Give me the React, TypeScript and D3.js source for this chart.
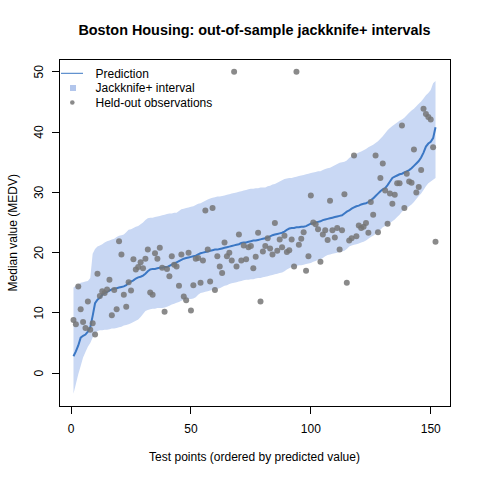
import React, { useRef, useEffect } from 'react';
import * as d3 from 'd3';

// Test points ordered by predicted value (index 1..152)
const predicted = [
  2.8, 3.6, 4.6, 5.9, 6.2, 6.4, 6.9, 7.6, 9.5, 11.6,
  12.2, 12.5, 13.0, 13.3, 13.5, 13.7, 13.9, 14.0, 14.1, 14.2,
  14.3, 14.4, 14.6, 15.0, 15.2, 15.4, 15.7, 15.9, 16.0, 16.2,
  16.5, 16.9, 17.2, 17.3, 17.3, 17.4, 17.5, 17.5, 17.6, 17.6,
  17.8, 18.0, 18.2, 18.4, 18.6, 18.8, 19.0, 19.1, 19.2, 19.3,
  19.4, 19.5, 19.7, 19.9, 20.0, 20.1, 20.2, 20.3, 20.4, 20.5,
  20.5, 20.6, 20.7, 20.8, 20.9, 21.0, 21.1, 21.2, 21.3, 21.4,
  21.6, 21.7, 21.7, 21.8, 21.9, 22.0, 22.0, 22.1, 22.2, 22.3,
  22.4, 22.5, 22.7, 22.9, 23.0, 23.1, 23.2, 23.3, 23.5, 23.8,
  24.0, 24.1, 24.1, 24.2, 24.2, 24.3, 24.3, 24.4, 24.6, 24.8,
  24.9, 25.0, 25.1, 25.2, 25.4, 25.5, 25.6, 25.7, 25.8, 25.9,
  26.0, 26.1, 26.2, 26.5, 26.8, 27.0, 27.3, 27.5, 27.7, 27.8,
  28.0, 28.1, 28.2, 28.4, 28.7, 29.0, 29.4, 29.8, 30.2, 30.5,
  30.7, 31.2, 31.8, 32.4, 32.6, 32.8, 33.0, 33.1, 33.3, 33.5,
  33.7, 34.0, 34.4, 34.8, 35.2, 35.8, 36.6, 37.6, 38.1, 38.4,
  39.0, 40.8,
];

const lower = [
  -3.4, -1.8, -0.2, 1.2, 2.6, 3.5, 4.4, 5.0, 5.9, 6.4,
  7.0, 7.1, 7.1, 7.2, 7.2, 7.3, 7.4, 7.4, 7.5, 7.6,
  7.7, 7.9, 8.0, 8.1, 8.3, 8.5, 8.7, 8.9, 9.3, 9.8,
  10.3, 10.5, 10.6, 10.7, 10.7, 10.8, 10.8, 10.8, 10.9, 11.0,
  11.2, 11.4, 11.5, 11.7, 11.8, 12.0, 12.2, 12.3, 12.3, 12.3,
  12.4, 12.6, 13.0, 13.3, 13.4, 13.5, 13.6, 13.7, 13.8, 13.9,
  14.0, 14.1, 14.3, 14.5, 14.6, 14.8, 14.9, 15.0, 15.1, 15.2,
  15.3, 15.4, 15.5, 15.5, 15.6, 15.6, 15.7, 15.8, 15.8, 15.9,
  16.0, 16.1, 16.2, 16.3, 16.4, 16.5, 16.6, 16.7, 16.9, 17.2,
  17.4, 17.6, 17.7, 17.8, 17.9, 17.9, 18.0, 18.1, 18.2, 18.3,
  18.5, 18.6, 18.8, 18.9, 19.1, 19.4, 19.6, 19.7, 19.8, 19.9,
  20.0, 20.1, 20.2, 20.3, 20.6, 21.0, 21.2, 21.3, 21.4, 21.5,
  21.7, 21.8, 22.0, 22.3, 22.6, 22.8, 23.1, 23.4, 23.8, 24.2,
  24.4, 24.6, 24.9, 25.2, 25.5, 25.9, 26.3, 26.8, 27.1, 27.4,
  27.7, 28.0, 28.4, 28.9, 29.4, 29.8, 30.4, 31.0, 31.5, 31.8,
  32.1, 32.4,
];

const upper = [
  14.2, 14.5, 14.7, 15.0, 15.1, 15.2, 15.3, 15.8, 19.8, 20.6,
  21.0, 21.2, 21.4, 21.7, 21.9, 22.0, 22.2, 22.3, 22.6, 22.8,
  22.9, 23.0, 23.4, 23.8, 23.9, 24.1, 24.3, 24.4, 24.7, 25.0,
  25.4, 25.7, 25.8, 25.8, 25.9, 26.0, 26.1, 26.2, 26.3, 26.4,
  26.5, 26.5, 26.6, 26.6, 26.9, 27.2, 27.3, 27.4, 27.5, 27.6,
  27.7, 27.9, 28.1, 28.2, 28.4, 28.6, 28.8, 29.0, 29.1, 29.2,
  29.3, 29.3, 29.4, 29.5, 29.6, 29.7, 29.8, 29.9, 30.0, 30.1,
  30.2, 30.3, 30.4, 30.5, 30.6, 30.6, 30.7, 30.7, 30.8, 30.8,
  30.8, 31.0, 31.1, 31.3, 31.4, 31.6, 31.8, 32.0, 32.2, 32.3,
  32.4, 32.4, 32.5, 32.6, 32.7, 32.8, 32.9, 33.0, 33.1, 33.2,
  33.3, 33.4, 33.5, 33.5, 33.7, 33.9, 34.0, 34.1, 34.3, 34.5,
  34.7, 34.9, 35.0, 35.1, 35.3, 35.7, 36.0, 36.2, 36.4, 36.6,
  36.8, 37.0, 37.2, 37.5, 37.7, 37.9, 38.2, 38.5, 38.9, 39.3,
  39.8, 40.3, 40.7, 41.0, 41.3, 41.6, 41.9, 42.1, 42.4, 42.8,
  43.2, 43.6, 43.9, 44.3, 44.7, 45.1, 45.6, 46.1, 46.5, 47.0,
  48.1, 48.5,
];

const observed = [
  8.8, 8.1, 14.4, 10.6, 8.5, 7.5, 11.9, 7.2, 8.3, 6.4,
  16.5, 12.8, 13.6, 13.3, 13.9, 15.5, 9.6, 13.8, 10.6, 21.9,
  19.7, 13.0, 11.0, 15.1, 13.7, 18.9, 17.2, 17.6, 18.4, 17.4,
  19.0, 20.5, 13.4, 13.0, 19.9, 19.0, 20.8, 17.5, 10.2, 17.3,
  16.1, 19.4, 18.0, 17.7, 14.5, 19.7, 12.7, 12.1, 20.0, 10.4,
  14.6, 19.0, 19.1, 15.0, 18.7, 27.0, 20.5, 15.2, 27.4, 13.8,
  19.4, 17.7, 16.6, 21.7, 19.4, 20.0, 18.7, 50.0, 17.7, 23.0,
  18.7, 21.2, 18.9, 20.9, 21.1, 17.4, 19.3, 23.3, 11.9, 20.2,
  21.1, 22.4, 20.7, 19.7, 24.9, 20.3, 22.2, 20.9, 22.8, 20.1,
  20.4, 22.2, 17.7, 50.0, 21.3, 22.3, 23.4, 17.0, 19.4, 29.5,
  25.0, 24.7, 23.9, 18.5, 23.0, 23.7, 22.1, 28.6, 23.7, 22.5,
  24.1, 20.5, 23.7, 29.7, 15.0, 22.0, 22.4, 36.1, 22.7, 24.5,
  24.1, 24.3, 24.9, 23.3, 28.4, 26.3, 36.1, 23.4, 32.4, 34.8,
  30.3, 24.8, 29.8, 28.1, 29.6, 31.5, 31.5, 41.1, 27.4, 33.1,
  31.8, 31.6, 37.1, 30.0, 30.9, 33.7, 43.9, 43.0, 42.5, 42.1,
  37.5, 21.8,
];

const xTicks = [0, 50, 100, 150];
const yTicks = [0, 10, 20, 30, 40, 50];
const legendLabels = ['Prediction', 'Jackknife+ interval', 'Held-out observations'];

const bandColor = '#c9d8f4';
const lineColor = '#3b77c4';
const pointColor = 'rgba(118,118,118,0.85)';

function JackknifeChart() {
  const svgRef = useRef<SVGSVGElement>(null);

  useEffect(() => {
    const svg = d3.select(svgRef.current);
    svg.selectAll('*').remove();

    const margin = { top: 59, right: 30, bottom: 73.5, left: 59 };
    const W = 480;
    const H = 480;
    const n = predicted.length;
    const idx = d3.range(1, n + 1);

    // R-style 4% padding on both axes
    const xPad = 0.04 * (n - 1);
    const yMin = d3.min([...lower, ...observed])!;
    const yMax = d3.max([...upper, ...observed])!;
    const yPad = 0.04 * (yMax - yMin);

    const x = d3.scaleLinear().domain([1 - xPad, n + xPad]).range([margin.left, W - margin.right]);
    const y = d3.scaleLinear().domain([yMin - yPad, yMax + yPad]).range([H - margin.bottom, margin.top]);

    const font = '"Liberation Sans", Arial, Helvetica, sans-serif';

    // interval band
    const band = d3
      .area<number>()
      .x((i) => x(i + 1))
      .y0((i) => y(lower[i]))
      .y1((i) => y(upper[i]));
    svg.append('path').attr('d', band(d3.range(n))!).attr('fill', bandColor);

    // prediction line
    const line = d3
      .line<number>()
      .x((i) => x(i + 1))
      .y((i) => y(predicted[i]));
    svg
      .append('path')
      .attr('d', line(d3.range(n))!)
      .attr('fill', 'none')
      .attr('stroke', lineColor)
      .attr('stroke-width', 2);

    // held-out points
    svg
      .append('g')
      .selectAll('circle')
      .data(idx)
      .enter()
      .append('circle')
      .attr('cx', (d) => x(d))
      .attr('cy', (d) => y(observed[d - 1]))
      .attr('r', 3)
      .attr('fill', pointColor);

    // frame
    const [x0, x1] = x.range();
    const [yb, yt] = y.range();
    svg
      .append('rect')
      .attr('x', x0)
      .attr('y', yt)
      .attr('width', x1 - x0)
      .attr('height', yb - yt)
      .attr('fill', 'none')
      .attr('stroke', '#000')
      .attr('shape-rendering', 'crispEdges');

    // x axis
    const gx = svg.append('g').attr('font-family', font).attr('font-size', 12);
    gx.append('line')
      .attr('x1', x(xTicks[0]))
      .attr('x2', x(xTicks[xTicks.length - 1]))
      .attr('y1', yb)
      .attr('y2', yb)
      .attr('stroke', '#000')
      .attr('shape-rendering', 'crispEdges');
    xTicks.forEach((t) => {
      gx.append('line')
        .attr('x1', x(t))
        .attr('x2', x(t))
        .attr('y1', yb)
        .attr('y2', yb + 7.2)
        .attr('stroke', '#000')
        .attr('shape-rendering', 'crispEdges');
      gx.append('text')
        .attr('x', x(t))
        .attr('y', yb + 26)
        .attr('text-anchor', 'middle')
        .text(t);
    });

    // y axis
    const gy = svg.append('g').attr('font-family', font).attr('font-size', 12);
    yTicks.forEach((t) => {
      gy.append('line')
        .attr('x1', x0)
        .attr('x2', x0 - 7.2)
        .attr('y1', y(t))
        .attr('y2', y(t))
        .attr('stroke', '#000')
        .attr('shape-rendering', 'crispEdges');
      gy.append('text')
        .attr('transform', `translate(${x0 - 16},${y(t)}) rotate(-90)`)
        .attr('text-anchor', 'middle')
        .text(t);
    });

    // titles
    svg
      .append('text')
      .attr('x', (x0 + x1) / 2)
      .attr('y', 35)
      .attr('text-anchor', 'middle')
      .attr('font-family', font)
      .attr('font-size', 14.4)
      .attr('font-weight', 'bold')
      .text('Boston Housing: out-of-sample jackknife+ intervals');
    svg
      .append('text')
      .attr('x', (x0 + x1) / 2)
      .attr('y', 461)
      .attr('text-anchor', 'middle')
      .attr('font-family', font)
      .attr('font-size', 12)
      .text('Test points (ordered by predicted value)');
    svg
      .append('text')
      .attr('transform', `translate(16.5,${(yb + yt) / 2}) rotate(-90)`)
      .attr('text-anchor', 'middle')
      .attr('font-family', font)
      .attr('font-size', 12)
      .text('Median value (MEDV)');

    // legend, no box
    const lg = svg.append('g').attr('font-family', font).attr('font-size', 12);
    const rowY = [73.3, 88, 102.5];
    lg.append('line')
      .attr('x1', 61)
      .attr('x2', 83)
      .attr('y1', rowY[0])
      .attr('y2', rowY[0])
      .attr('stroke', lineColor)
      .attr('stroke-width', 1);
    lg.append('rect')
      .attr('x', 70)
      .attr('y', rowY[1] - 3)
      .attr('width', 6)
      .attr('height', 6)
      .attr('fill', '#b2c6ec');
    lg.append('circle').attr('cx', 72.3).attr('cy', rowY[2]).attr('r', 2.3).attr('fill', pointColor);
    legendLabels.forEach((label, i) => {
      lg.append('text')
        .attr('x', 95.5)
        .attr('y', rowY[i] + 4.3)
        .text(label);
    });
  }, []);

  return <svg ref={svgRef} width={480} height={480} style={{ display: 'block' }} />;
}

export default function App() {
  return (
    <div style={{ position: 'absolute', left: 0, top: 0, width: 480, height: 480, background: '#fff' }}>
      <JackknifeChart />
    </div>
  );
}
